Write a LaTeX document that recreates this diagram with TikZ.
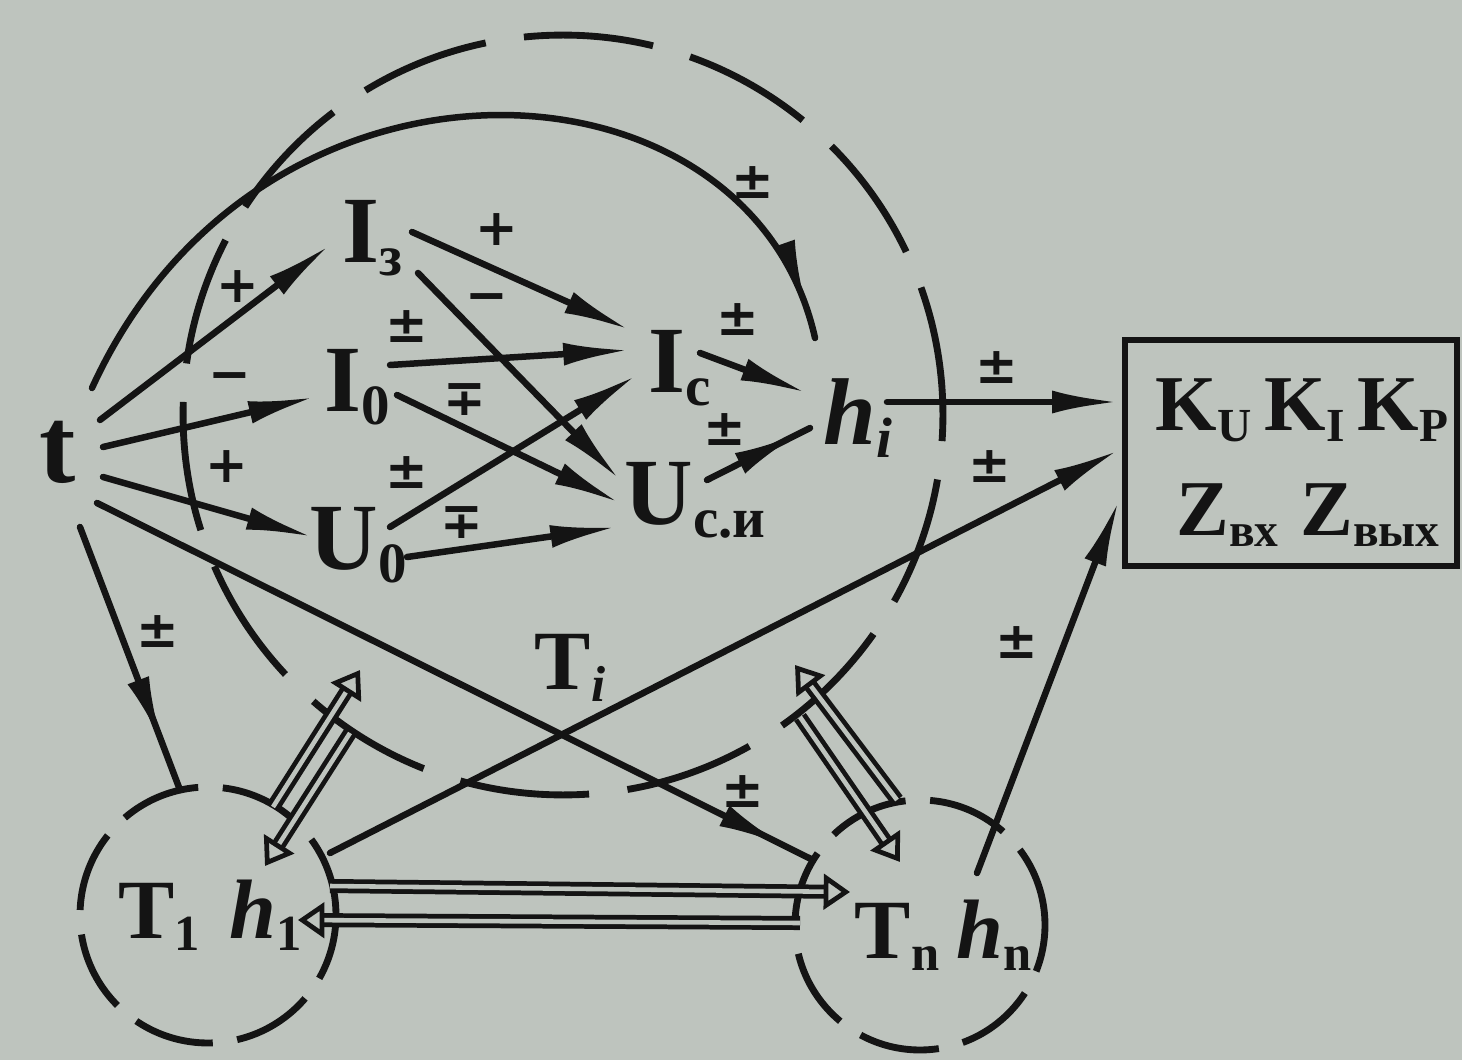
\documentclass[tikz,border=0pt]{standalone}
\usepackage{fontspec}
\setmainfont{Liberation Serif}
\newfontfamily\signfont{DejaVu Sans}
\usepackage{graphicx}
\usetikzlibrary{arrows.meta,decorations.markings}
\definecolor{paper}{RGB}{190,196,190}
\definecolor{ink}{RGB}{20,20,20}
\newcommand\lsub[1]{\raisebox{-0.14em}{\scalebox{0.6}{#1}}}
\begin{document}
\begin{tikzpicture}[x=0.02cm,y=-0.02cm,
  every node/.style={inner sep=0pt, text=ink},
  lbl/.style={font=\fontsize{54}{60}\selectfont\bfseries},
  tlbl/.style={font=\fontsize{48}{54}\selectfont\bfseries},
  boxtxt/.style={font=\fontsize{45}{50}\selectfont\bfseries},
  sgn/.style={font=\signfont\fontsize{29}{29}\selectfont\bfseries},
  ln/.style={draw=ink, line width=3.7pt, line cap=round},
  dart/.style={-{Latex[length=38pt,width=13pt]}},
  tipat/.style={postaction={decorate}, decoration={markings, mark=at position #1 with {\arrow{Latex[length=38pt,width=13pt]}}}},
  dbl/.style={draw=ink, line width=2.7pt, double=paper, double distance=2.6pt, -{Triangle[open, length=15pt, width=20pt]}},
  dcirc/.style={draw=ink, circle, line width=3.9pt, dash pattern=on 74pt off 22pt},
  scirc/.style={draw=ink, circle, line width=3.9pt, dash pattern=on 46pt off 14pt},
]
\fill[paper] (0,0) rectangle (1462,1060);
\useasboundingbox (0,0) rectangle (1462,1060);

% dashed circles
\node[dcirc, minimum size=15.2cm] (big) at (563,415) {};
\node[scirc, minimum size=5.12cm] (c1) at (208,915) {};
\node[scirc, minimum size=5cm] (cn) at (920,925) {};

% main nodes
\node[lbl, font=\fontsize{62}{66}\selectfont\bfseries] (t) at (58,452) {t};
\node[lbl] (I3) at (372,238) {I\lsub{з}};
\node[lbl] (I0) at (357,387) {I\lsub{0}};
\node[lbl] (U0) at (358,545) {U\lsub{0}};
\node[lbl] (Ic) at (680,368) {I\lsub{c}};
\node[lbl] (Uci) at (695,500) {U\lsub{c.и}};
\node[lbl] (hi) at (858,418) {\textit{h}\lsub{\textit{i}}};
\node[draw=ink, line width=3.5pt, minimum width=6.64cm, minimum height=4.52cm] (box) at (1291,453) {};
\node[boxtxt] (kk) at (1302,410) {K\lsub{U}\,K\lsub{I}\,K\lsub{P}};
\node[boxtxt] (zz) at (1308,515) {Z\lsub{вх}\;Z\lsub{вых}};
\node[tlbl] (n1) at (210,915) {T\lsub{1}\hspace{0.35em}\textit{h}\lsub{1}};
\node[tlbl] (nn) at (943,935) {T\lsub{n}\hspace{0.2em}\textit{h}\lsub{n}};
\node[tlbl] (Ti) at (570,668) {T\lsub{\textit{i}}};

% connectors from t
\draw[ln, tipat=0.965] ([shift={(34,-64)}]t.center) .. controls (260,20) and (750,45) .. ([shift={(-43,-80)}]hi.center);
\draw[ln, dart] ([shift={(42,-32)}]t.center) -- ([shift={(-42,7)}]I3.center);
\draw[ln, dart] ([shift={(45,-5)}]t.center) -- ([shift={(-42,10)}]I0.center);
\draw[ln, dart] ([shift={(45,25)}]t.center) -- ([shift={(-45,-8)}]U0.center);
\draw[ln, tipat=0.96] ([shift={(39,51)}]t.center) -- ([shift={(-107,-65)}]cn.center);
\draw[ln, tipat=0.82] ([shift={(22,75)}]t.center) -- ([shift={(-28,-125)}]c1.center);

% inner connectors
\draw[ln, dart] ([shift={(40,-6)}]I3.center) -- ([shift={(-50,-38)}]Ic.center);
\draw[ln, dart] ([shift={(46,35)}]I3.center) -- ([shift={(-75,-20)}]Uci.center);
\draw[ln, dart] ([shift={(33,-22)}]I0.center) -- ([shift={(-50,-18)}]Ic.center);
\draw[ln, dart] ([shift={(40,8)}]I0.center) -- ([shift={(-75,3)}]Uci.center);
\draw[ln, dart] ([shift={(32,-18)}]U0.center) -- ([shift={(-43,7)}]Ic.center);
\draw[ln, dart] ([shift={(49,12)}]U0.center) -- ([shift={(-78,27)}]Uci.center);
\draw[ln, dart] ([shift={(20,-15)}]Ic.center) -- ([shift={(-51,-25)}]hi.center);
\draw[ln, tipat=0.9] ([shift={(12,-20)}]Uci.center) -- ([shift={(-48,10)}]hi.center);

% to the box
\draw[ln, dart] ([shift={(29,-16)}]hi.center) -- ([shift={(-3,-51)}]box.west);
\draw[ln, dart] ([shift={(122,-62)}]c1.center) -- ([shift={(-3,-3)}]box.west);
\draw[ln, dart] ([shift={(57,-52)}]cn.center) -- ([shift={(-3,47)}]box.west);

% double arrows
\draw[dbl] ([shift={(65,-108)}]c1.center) -- ([shift={(-203,255)}]big.center);
\draw[dbl] ([shift={(-213,318)}]big.center) -- ([shift={(57,-49)}]c1.center);
\draw[dbl] ([shift={(-23,-125)}]cn.center) -- ([shift={(232,250)}]big.center);
\draw[dbl] ([shift={(237,302)}]big.center) -- ([shift={(-20,-63)}]cn.center);
\draw[dbl] ([shift={(122,-29)}]c1.center) -- ([shift={(-70,-33)}]cn.center);
\draw[dbl] ([shift={(-120,-2)}]cn.center) -- ([shift={(90,5)}]c1.center);

% sign labels
\node[sgn] (s1) at (753,183) {±};
\node[sgn] (s2) at (238,287) {+};
\node[sgn] (s3) at (230,382) {−};
\node[sgn] (s4) at (227,467) {+};
\node[sgn] (s5) at (158,632) {±};
\node[sgn] (s6) at (743,792) {±};
\node[sgn] (s7) at (497,230) {+};
\node[sgn] (s8) at (487,303) {−};
\node[sgn] (s9) at (407,327) {±};
\node[sgn] (s10) at (465,400) {∓};
\node[sgn] (s11) at (407,473) {±};
\node[sgn] (s12) at (462,523) {∓};
\node[sgn] (s13) at (738,320) {±};
\node[sgn] (s14) at (725,430) {±};
\node[sgn] (s15) at (997,368) {±};
\node[sgn] (s16) at (990,467) {±};
\node[sgn] (s17) at (1017,643) {±};
\end{tikzpicture}
\end{document}
